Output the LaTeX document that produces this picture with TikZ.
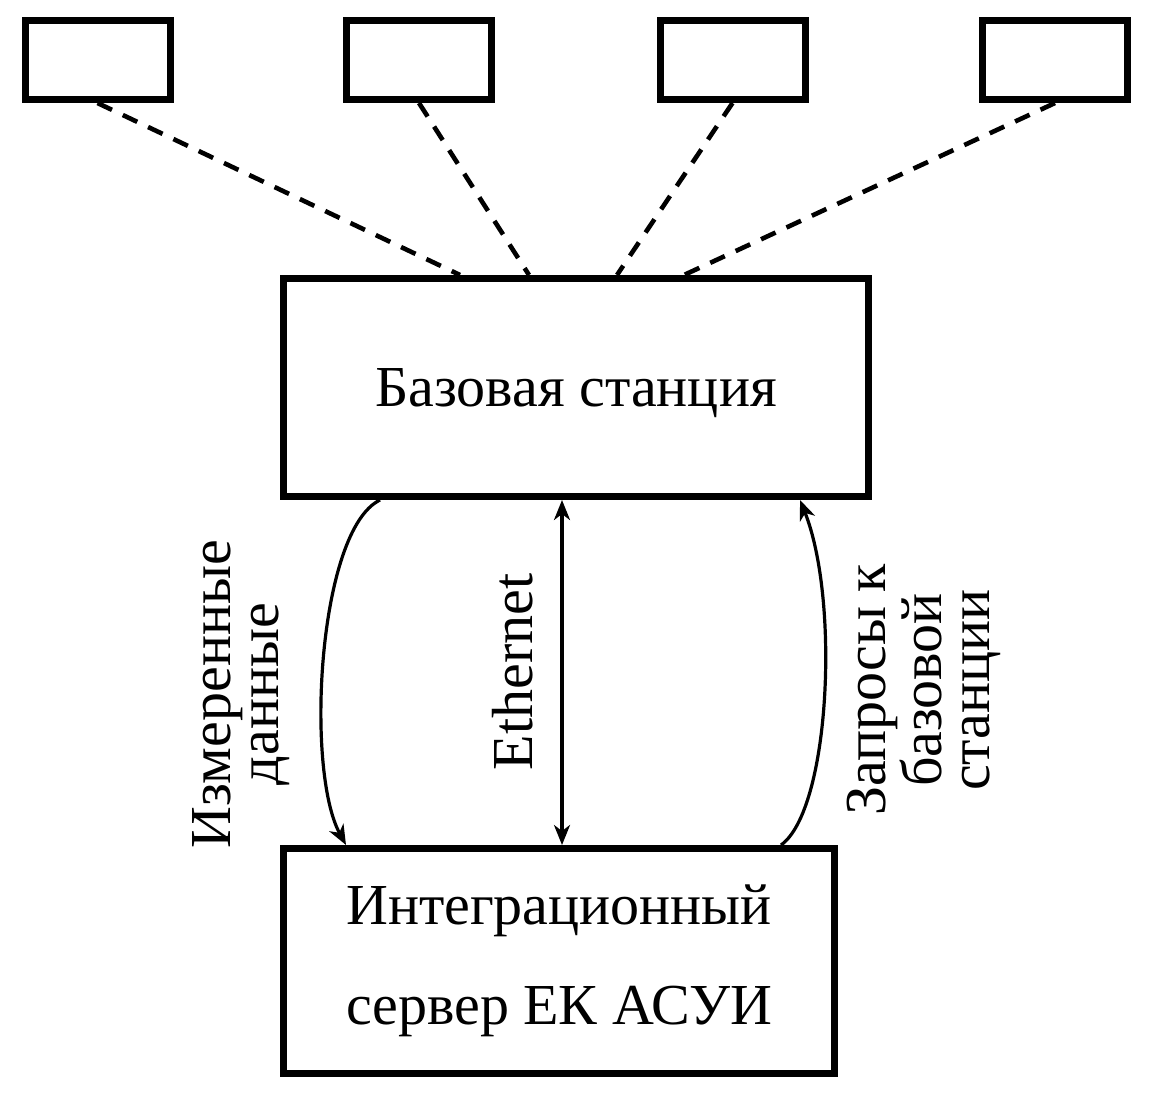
\documentclass[tikz,border=0pt]{standalone}
\usepackage{fontspec}
\setmainfont{Liberation Serif}
\usetikzlibrary{arrows.meta}

\begin{document}
\begin{tikzpicture}[x=0.5pt,y=-0.5pt,
    sensor/.style={draw,line width=3.5pt,minimum width=72.5pt,minimum height=39.5pt,inner sep=0pt},
    unit/.style={draw,line width=3.5pt,inner sep=0pt,font=\fontsize{29}{50}\selectfont},
    vlabel/.style={rotate=90,align=center,inner sep=0pt,font=\fontsize{29}{24}\selectfont},
    radio/.style={line width=2.3pt,dash pattern=on 8pt off 6pt},
    link/.style={line width=1.6pt},
    >={Stealth[length=10pt,width=8pt,inset=3pt]}]
    \useasboundingbox (0,0) rectangle (1154,1099);
    % sensors
    \node[sensor] (s1) at (97.5,60) {};
    \node[sensor] (s2) at (419,60) {};
    \node[sensor] (s3) at (732.5,60) {};
    \node[sensor] (s4) at (1055,60) {};
    % base station and server
    \node[unit,minimum width=292.5pt,minimum height=109pt,text depth=0pt] (base) at (576,387.5) {Базовая станция};
    \node[unit,align=center,minimum width=275.5pt,minimum height=112.5pt] (server) at (559,961) {Интеграционный\\сервер ЕК АСУИ};
    % radio links
    \draw[radio] (s1.south) -- ([xshift=-58pt]base.north);
    \draw[radio] (s2.south) -- ([xshift=-23.5pt]base.north);
    \draw[radio] (s3.south) -- ([xshift=20.5pt]base.north);
    \draw[radio] (s4.south) -- ([xshift=54pt]base.north);
    % ethernet links
    \draw[link,->] ([xshift=-98pt]base.south) .. controls +(-62,30) and +(-41,-75) .. ([xshift=-106.5pt]server.north);
    \draw[link,<->] ([xshift=-7pt]base.south) -- ([xshift=1.5pt]server.north);
    \draw[link,->] ([xshift=111pt]server.north) .. controls +(49,-35) and +(40,100) .. ([xshift=112pt]base.south);
    \node[vlabel] (meas) at (241,694) {Измеренные\\данные};
    \node[vlabel] (eth) at (513,672) {Ethernet};
    \node[vlabel] (req) at (924,690) {Запросы к\\базовой\\станции};
\end{tikzpicture}
\end{document}
